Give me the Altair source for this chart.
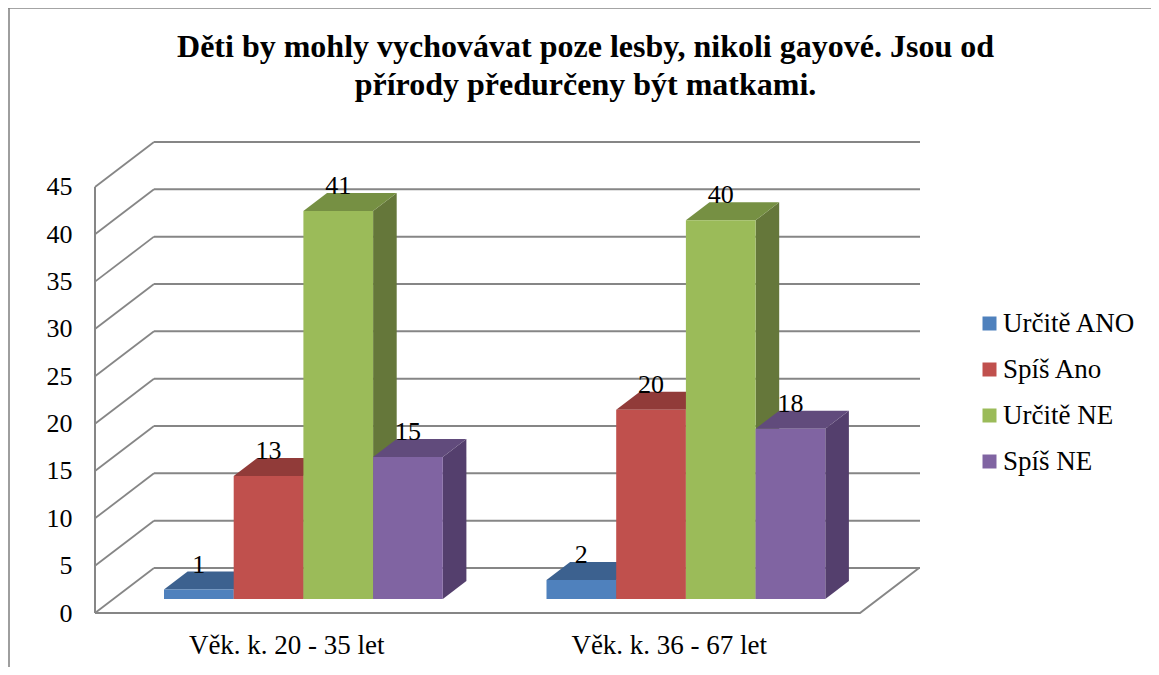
import altair as alt
import pandas as pd

title_lines = ["Děti by mohly vychovávat poze lesby, nikoli gayové. Jsou od",
               "přírody předurčeny být matkami."]
categories = ["Věk. k. 20 - 35 let", "Věk. k. 36 - 67 let"]
series = ["Určitě ANO", "Spíš Ano", "Určitě NE", "Spíš NE"]
values = {
    "Určitě ANO": [1, 2],
    "Spíš Ano": [13, 20],
    "Určitě NE": [41, 40],
    "Spíš NE": [15, 18],
}
y_ticks = [0, 5, 10, 15, 20, 25, 30, 35, 40, 45]
front_colors = ["#4F81BD", "#C0504D", "#9BBB59", "#8064A2"]
top_colors = ["#3C618F", "#913B39", "#769043", "#614B7C"]
side_colors = ["#34557D", "#7E3432", "#65773A", "#543F6D"]

FONT = "Liberation Serif"
GRID = "#868686"
# Scale geometry, in data units (x: one unit is one category; y: axis units)
X_MAX, Y_MAX = 825 / 382.5, 471 / 9.467
WALL_DX, WALL_DY = 59 / 382.5, 45 / 9.467
BAR_DX, BAR_DY = WALL_DX * 0.4, WALL_DY * 0.4
BAR_BASE = WALL_DY * 0.31
BAR_START, BAR_W = 69 / 382.5, 69.7 / 382.5

xs = alt.Scale(domain=[0, X_MAX], nice=False, zero=False)
ys = alt.Scale(domain=[0, Y_MAX], nice=False, zero=False)

cat_expr = "datum.value < 1 ? '%s' : '%s'" % tuple(categories)
x_ax = alt.Axis(
    values=[0.5, 1.5], labelExpr=cat_expr, domain=False, ticks=False, grid=False,
    title=None, labelFont=FONT, labelFontSize=27, labelColor="black", labelPadding=19,
    labelAngle=0, labelLimit=500)
y_ax = alt.Axis(
    values=y_ticks, domain=False, ticks=False, grid=False, title=None,
    labelFont=FONT, labelFontSize=26, labelColor="black", labelPadding=23,
    format="d")


def X(f, **kw):
    return alt.X(f"{f}:Q", scale=xs, axis=x_ax, **kw)


def Y(f, **kw):
    return alt.Y(f"{f}:Q", scale=ys, axis=y_ax, stack=None, **kw)


layers = []

# back wall grid
back = pd.DataFrame([{"x": WALL_DX, "x2": X_MAX, "y": v + WALL_DY} for v in y_ticks])
layers.append(alt.Chart(back).mark_rule(color=GRID, strokeWidth=2).encode(
    x=X("x"), x2="x2:Q", y=Y("y")))

# left wall diagonals
diag = pd.DataFrame([r for v in y_ticks for r in (
    {"x": 0, "y": v, "v": v}, {"x": WALL_DX, "y": v + WALL_DY, "v": v})])
layers.append(alt.Chart(diag).mark_line(color=GRID, strokeWidth=1.8).encode(
    x=X("x"), y=Y("y"), detail="v:N"))

# left vertical edge and floor
edge = pd.DataFrame([{"x": 0, "y": 0, "y2": y_ticks[-1]}])
layers.append(alt.Chart(edge).mark_rule(color=GRID, strokeWidth=2).encode(
    x=X("x"), y=Y("y"), y2="y2:Q"))
floor = pd.DataFrame([{"x": 0, "y": 0}, {"x": 2, "y": 0}, {"x": 2 + WALL_DX, "y": WALL_DY}])
layers.append(alt.Chart(floor).mark_line(color=GRID, strokeWidth=2).encode(
    x=X("x", sort=None), y=Y("y")))

# bars, drawn left to right
for k, s in enumerate(series):
    side, top, front = [], [], []
    for c, v in enumerate(values[s]):
        xl = c + BAR_START + k * BAR_W
        xr = xl + BAR_W
        yt = v + BAR_BASE
        front.append({"s": s, "c": c, "x": xl, "x2": xr, "y": BAR_BASE, "y2": yt})
        side += [{"c": c, "x": xr, "y": yt, "y2": BAR_BASE},
                 {"c": c, "x": xr + BAR_DX, "y": yt + BAR_DY, "y2": BAR_BASE + BAR_DY}]
        top += [{"c": c, "x": xl, "x2": xr, "y": yt},
                {"c": c, "x": xl + BAR_DX, "x2": xr + BAR_DX, "y": yt + BAR_DY}]
    layers.append(alt.Chart(pd.DataFrame(side)).mark_area(color=side_colors[k], orient="vertical").encode(
        x=X("x"), y=Y("y"), y2="y2:Q", detail="c:N"))
    layers.append(alt.Chart(pd.DataFrame(top)).mark_area(color=top_colors[k], orient="horizontal").encode(
        x=X("x"), x2="x2:Q", y=Y("y"), detail="c:N"))
    layers.append(alt.Chart(pd.DataFrame(front)).mark_rect().encode(
        x=X("x"), x2="x2:Q", y=Y("y"), y2="y2:Q",
        color=alt.Color("s:N", scale=alt.Scale(domain=series, range=front_colors),
                        legend=alt.Legend(
                            orient="none", legendX=881, legendY=168, title=None,
                            symbolType="square", symbolSize=196, symbolStrokeWidth=0,
                            labelFont=FONT, labelFontSize=27, labelColor="black",
                            labelOffset=0, rowPadding=18))))

# value labels
labels = pd.DataFrame([
    {"x": c + BAR_START + (k + 0.5) * BAR_W, "y": values[s][c] + BAR_BASE + BAR_DY, "t": values[s][c]}
    for k, s in enumerate(series) for c in range(len(categories))])
layers.append(alt.Chart(labels).mark_text(
    font=FONT, fontSize=26, color="black", baseline="alphabetic", align="center", dy=1).encode(
    x=X("x"), y=Y("y"), text="t:Q"))

# outer frame
layers.append(alt.Chart(pd.DataFrame([{"a": 0}])).mark_rule(color=GRID, strokeWidth=1.6).encode(
    x=alt.value(-87), x2=alt.value(1056), y=alt.value(-134)))
layers.append(alt.Chart(pd.DataFrame([{"a": 0}])).mark_rule(color=GRID, strokeWidth=1.6).encode(
    x=alt.value(-86), y=alt.value(-134), y2=alt.value(525)))

chart = alt.layer(*layers).resolve_scale(color="shared").properties(
    width=825, height=471, background="white",
    padding={"left": 87, "top": 134, "right": 231, "bottom": 54},
    autosize=alt.AutoSizeParams(type="none"),
    title=alt.TitleParams(text=title_lines, font=FONT, fontSize=32, fontWeight="bold",
                          color="black", anchor="middle", dx=78, offset=-95, lineHeight=38),
).configure_view(strokeWidth=0)

chart.save("out.html", embed_options={"renderer": "svg", "actions": False})
